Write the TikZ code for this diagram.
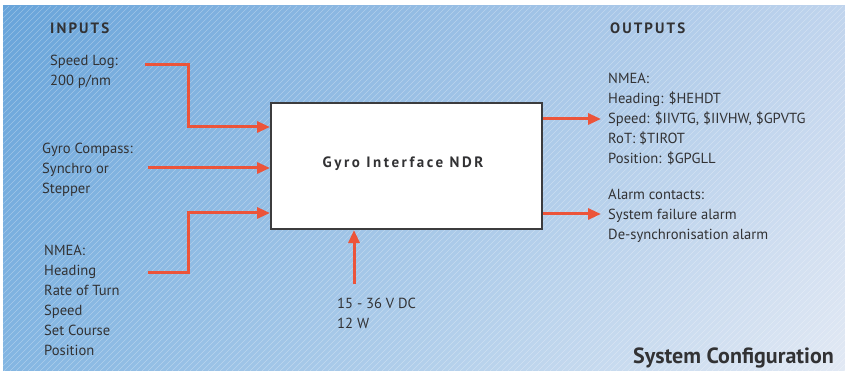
\documentclass[tikz,border=0pt]{standalone}
\usepackage{fontspec}
\setmainfont{PT Sans}
\newfontfamily\spacedbold[LetterSpace=14]{PT Sans Bold}
\newfontfamily\boxbold[LetterSpace=17]{PT Sans Bold}
\usetikzlibrary{arrows.meta,calc,shadings}
\definecolor{arr}{RGB}{236,84,58}
\definecolor{txt}{RGB}{50,50,52}
\definecolor{bgUL}{RGB}{104,164,218}
\definecolor{bgUR}{RGB}{192,212,237}
\definecolor{bgLL}{RGB}{132,182,226}
\definecolor{bgLR}{RGB}{226,233,244}
\definecolor{boxline}{RGB}{60,60,62}
\begin{document}
\begin{tikzpicture}[x=1pt,y=-1pt,
  lbl/.style={anchor=base west,inner sep=0pt,text=txt,font=\fontsize{14.6}{20}\selectfont,align=left},
  head/.style={anchor=base west,inner sep=0pt,text=txt,font=\spacedbold\fontsize{15}{18}\selectfont},
  sig/.style={draw=arr,line width=3pt,-{Triangle[length=13pt,width=11pt]}},
  mainbox/.style={draw=boxline,line width=2pt,fill=white,minimum width=271pt,minimum height=126pt,inner sep=0pt}
]
\useasboundingbox (0,0) rectangle (845,371);
\fill[white] (0,0) rectangle (845,371);
\shade[upper left=bgUL,upper right=bgUR,lower left=bgLL,lower right=bgLR] (3,6) rectangle (845,371);
\begin{scope}
\clip (3,6) rectangle (845,371);
\foreach \i in {-380,-374,...,850} \draw[white,opacity=0.3,line width=0.5pt] (\i,371) -- (\i+365,6);
\end{scope}

% headings
\node[head] (inputs) at (50,34) {INPUTS};
\node[head] (outputs) at (610,34) {OUTPUTS};

% input labels (base = last line)
\node[lbl] (speedlog) at (50,86) {Speed Log:\\200 p/nm};
\node[lbl] (gyro) at (42,194) {Gyro Compass:\\Synchro or\\Stepper};
\node[lbl] (nmeain) at (44,355) {NMEA:\\Heading\\Rate of Turn\\Speed\\Set Course\\Position};

% box
\node[mainbox] (box) at (406.5,166) {};
\node[anchor=base,inner sep=0pt,text=txt,font=\boxbold\fontsize{15}{16}\selectfont] (boxtext) at (403,168) {Gyro Interface NDR};

% outputs
\node[lbl] (nmeaout) at (608,164) {NMEA:\\Heading: \$HEHDT\\Speed: \$IIVTG, \$IIVHW, \$GPVTG\\RoT: \$TIROT\\Position: \$GPGLL};
\node[lbl] (alarm) at (608,240) {Alarm contacts:\\System failure alarm\\De-synchronisation alarm};

% power
\node[lbl] (power) at (337,328) {15 - 36 V DC\\12 W};

\node[anchor=base east,inner sep=0pt,text=txt,font=\bfseries\fontsize{22}{24}\selectfont] (title) at (834,363) {System Configuration};

% connectors
\coordinate (s1) at (145,65);
\coordinate (s2) at (148,168);
\coordinate (s3) at (148,272);
\coordinate (in1) at (box.west |- 0,127);
\coordinate (in2) at (box.west |- 0,168);
\coordinate (in3) at (box.west |- 0,213);
\coordinate (o1) at (box.east |- 0,119);
\coordinate (o2) at (box.east |- 0,214);
\coordinate (t1) at (601,119);
\coordinate (t2) at (601,214);
\coordinate (p0) at (354,284);
\coordinate (p1) at (box.south -| 354,0);

\draw[sig] (s1) -- (188,65) |- (in1);
\draw[sig] (s2) -- (in2);
\draw[sig] (s3) -- (188,272) |- (in3);
\draw[sig] (o1) -- (t1);
\draw[sig] (o2) -- (t2);
\draw[sig] (p0) -- (p1);
\end{tikzpicture}
\end{document}
